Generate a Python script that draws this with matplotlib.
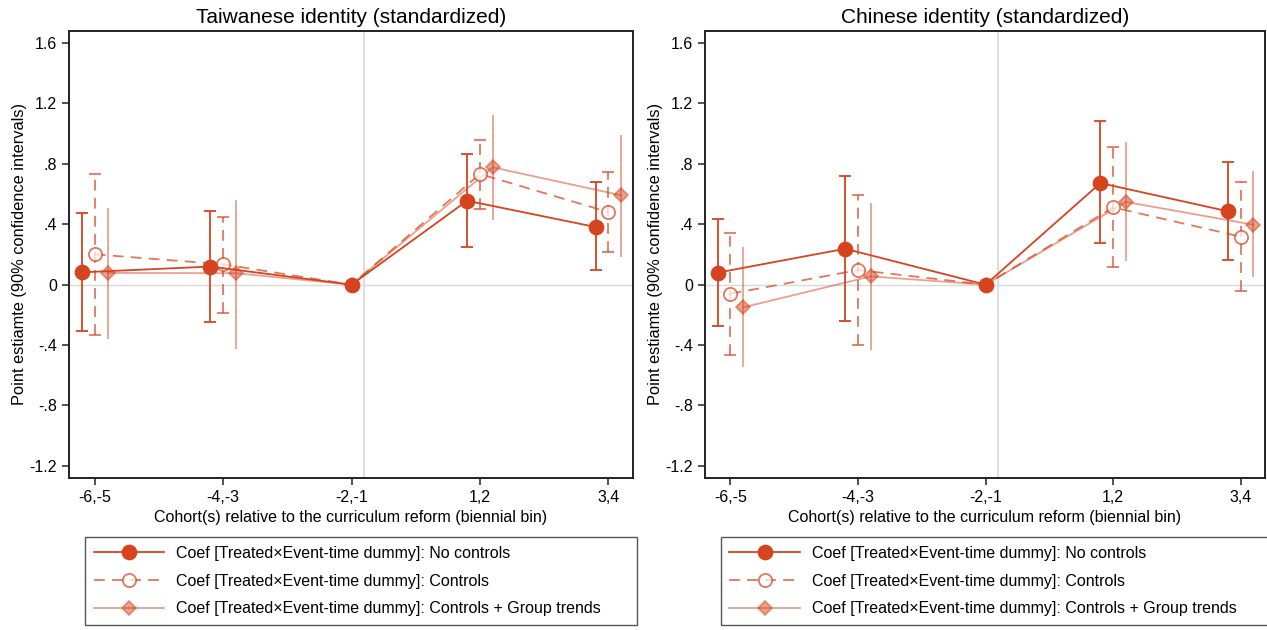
import numpy as np
import matplotlib
matplotlib.use("Agg")
import matplotlib.pyplot as plt
from matplotlib.ticker import FixedLocator, FixedFormatter

plt.rcParams["font.family"] = ["Liberation Sans", "DejaVu Sans"]

bins = ["-6,-5", "-4,-3", "-2,-1", "1,2", "3,4"]
yticks = [1.6, 1.2, 0.8, 0.4, 0.0, -0.4, -0.8, -1.2]
ytick_labels = ["1.6", "1.2", ".8", ".4", "0", "-.4", "-.8", "-1.2"]

# Taiwanese identity
tw_nc = [0.082, 0.120, 0.0, 0.556, 0.382]
tw_nc_lo = [-0.305, -0.245, 0.0, 0.250, 0.095]
tw_nc_hi = [0.475, 0.488, 0.0, 0.866, 0.678]
tw_c = [0.201, 0.135, 0.0, 0.733, 0.481]
tw_c_lo = [-0.333, -0.188, 0.0, 0.501, 0.215]
tw_c_hi = [0.731, 0.451, 0.0, 0.957, 0.745]
tw_gt = [0.078, 0.076, 0.0, 0.777, 0.592]
tw_gt_lo = [-0.358, -0.426, 0.0, 0.427, 0.183]
tw_gt_hi = [0.508, 0.563, 0.0, 1.122, 0.990]

# Chinese identity
cn_nc = [0.080, 0.238, 0.0, 0.673, 0.486]
cn_nc_lo = [-0.274, -0.243, 0.0, 0.274, 0.163]
cn_nc_hi = [0.435, 0.717, 0.0, 1.086, 0.810]
cn_c = [-0.060, 0.097, 0.0, 0.512, 0.318]
cn_c_lo = [-0.464, -0.397, 0.0, 0.120, -0.044]
cn_c_hi = [0.342, 0.592, 0.0, 0.909, 0.680]
cn_gt = [-0.150, 0.055, 0.0, 0.548, 0.397]
cn_gt_lo = [-0.545, -0.430, 0.0, 0.159, 0.050]
cn_gt_hi = [0.250, 0.543, 0.0, 0.945, 0.753]

labels = [
    "Coef [Treated\u00d7Event-time dummy]: No controls",
    "Coef [Treated\u00d7Event-time dummy]: Controls",
    "Coef [Treated\u00d7Event-time dummy]: Controls + Group trends",
]

BASE = "#d5441f"
ref_idx = 2  # reference bin, no offset


def positions(offset):
    x = np.arange(len(bins), dtype=float) + offset
    x[ref_idx] = ref_idx
    return x


def draw_series(ax, y, lo, hi, offset, style):
    x = positions(offset)
    y = np.array(y)
    err = np.vstack([y - np.array(lo), np.array(hi) - y])
    mask = np.arange(len(bins)) != ref_idx
    eb = ax.errorbar(x[mask], y[mask], yerr=err[:, mask], fmt="none",
                     ecolor=style["color"], elinewidth=1.3, capsize=style["capsize"],
                     capthick=1.3, alpha=style["alpha"], zorder=style["z"] - 1)
    if style["ls"] == "--":
        eb[2][0].set_linestyle((0, (6, 4)))
    line, = ax.plot(x, y, color=style["color"], lw=1.3, ls=style["ls"],
                    marker=style["marker"], ms=style["ms"], mfc=style["mfc"],
                    mec=style["color"], mew=1.3, alpha=style["alpha"], zorder=style["z"])
    if style["ls"] == "--":
        line.set_dashes((6, 4))
    return line


styles = [
    dict(color=BASE, alpha=1.0, ls="-", marker="o", ms=10, mfc=BASE, capsize=4, z=6),
    dict(color=BASE, alpha=0.72, ls="--", marker="o", ms=9.5, mfc="white", capsize=4, z=4),
    dict(color=BASE, alpha=0.5, ls="-", marker="D", ms=7.5, mfc=BASE, capsize=0, z=3),
]
offsets = [-0.1, 0.0, 0.1]

fig = plt.figure(figsize=(12.67, 6.30), dpi=100)
ax1 = fig.add_axes([0.0545, 0.2413, 0.4449, 0.7095])
ax2 = fig.add_axes([0.5564, 0.2413, 0.4420, 0.7095])

panels = [
    (ax1, "Taiwanese identity (standardized)",
     [(tw_nc, tw_nc_lo, tw_nc_hi), (tw_c, tw_c_lo, tw_c_hi), (tw_gt, tw_gt_lo, tw_gt_hi)]),
    (ax2, "Chinese identity (standardized)",
     [(cn_nc, cn_nc_lo, cn_nc_hi), (cn_c, cn_c_lo, cn_c_hi), (cn_gt, cn_gt_lo, cn_gt_hi)]),
]

for ax, title, series in panels:
    ax.axhline(0, color="#d9d9d9", lw=1.0, zorder=0)
    ax.axvline(2.1, color="#d9d9d9", lw=1.2, zorder=0)
    handles = []
    for (y, lo, hi), st, off in zip(series, styles, offsets):
        handles.append(draw_series(ax, y, lo, hi, off, st))

    ax.set_xlim(-0.2, 4.19)
    ax.set_ylim(-1.28, 1.68)
    ax.xaxis.set_major_locator(FixedLocator(range(len(bins))))
    ax.xaxis.set_major_formatter(FixedFormatter(bins))
    ax.yaxis.set_major_locator(FixedLocator(yticks))
    ax.yaxis.set_major_formatter(FixedFormatter(ytick_labels))
    ax.tick_params(axis="both", labelsize=11.5, length=5, width=1.2, color="#333333")
    for sp in ax.spines.values():
        sp.set_linewidth(1.4)
        sp.set_color("#222222")
    ax.set_title(title, fontsize=15, pad=6)
    ax.set_xlabel("Cohort(s) relative to the curriculum reform (biennial bin)",
                  fontsize=11.5, labelpad=4)
    ax.set_ylabel("Point estiamte (90% confidence intervals)", fontsize=11.8, labelpad=2)

    leg = ax.legend(handles, labels, loc="upper left",
                    bbox_to_anchor=(0.028, -0.132, 0.98, 0.0), mode="expand",
                    borderaxespad=0, fontsize=11.5, handlelength=4.4, handletextpad=0.75,
                    borderpad=0.55, labelspacing=0.8, fancybox=False,
                    framealpha=1, edgecolor="#555555")
    leg.get_frame().set_linewidth(1.0)

fig.savefig("out.png", dpi=100)
